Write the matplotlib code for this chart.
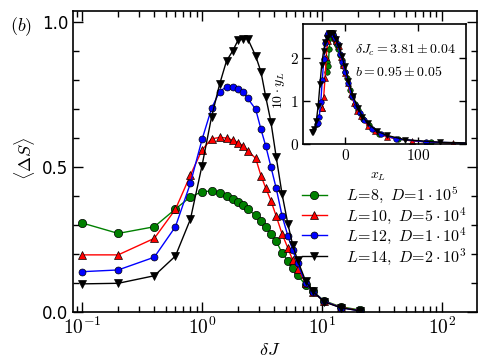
import numpy as np
import matplotlib
matplotlib.use("Agg")
import matplotlib.pyplot as plt
from matplotlib.ticker import FuncFormatter, MultipleLocator, LogLocator

plt.rcParams["mathtext.fontset"] = "cm"

# delta J grid (shared by all system sizes)
dJ = [0.1, 0.2, 0.4, 0.6, 0.8, 1.0, 1.2, 1.4, 1.6, 1.8, 2.0, 2.2, 2.4, 2.8, 3.1,
      3.4, 3.75, 4.15, 4.65, 5.2, 5.7, 6.25, 7.3, 8.4, 10.4, 14.3, 20.7]

# <Delta S> for each L
dS_L8 = [0.307, 0.271, 0.294, 0.355, 0.397, 0.415, 0.417, 0.41, 0.40, 0.389, 0.378,
         0.368, 0.355, 0.333, 0.314, 0.292, 0.268, 0.245, 0.203, 0.177, 0.151, 0.128,
         0.093, 0.071, 0.039, 0.018, 0.007]
dS_L10 = [0.197, 0.197, 0.254, 0.354, 0.472, 0.559, 0.597, 0.602, 0.60, 0.593, 0.584,
          0.573, 0.556, 0.53, 0.47, 0.427, 0.384, 0.331, 0.269, 0.22, 0.179, 0.15,
          0.10, 0.07, 0.037, 0.016, 0.005]
dS_L12 = [0.139, 0.145, 0.189, 0.294, 0.444, 0.595, 0.702, 0.76, 0.777, 0.777, 0.769,
          0.76, 0.737, 0.699, 0.63, 0.572, 0.501, 0.427, 0.331, 0.262, 0.214, 0.168,
          0.10, 0.07, 0.037, 0.015, 0.004]
dS_L14 = [0.097, 0.099, 0.125, 0.193, 0.32, 0.505, 0.672, 0.785, 0.866, 0.90, 0.938,
          0.941, 0.943, 0.883, 0.828, 0.741, 0.656, 0.535, 0.406, 0.303, 0.231, 0.179,
          0.107, 0.071, 0.035, 0.015, 0.004]

# inset: scaling collapse (x_L, 10*y_L)
xL_L8 = [-25.6, -24.9, -23.5, -22.1, -20.8, -19.4, -18.0, -16.6, -15.2, -13.9, -12.5,
         -11.1, -9.7, -7.0, -4.9, -2.8, -0.4, 2.3, 5.8, 9.6, 13.0, 16.8, 24.1, 31.7,
         45.5, 72.4, 116.5]
yL_L8 = [1.92, 1.69, 1.83, 2.22, 2.48, 2.59, 2.60, 2.56, 2.50, 2.43, 2.36, 2.30, 2.22,
         2.08, 1.96, 1.82, 1.67, 1.53, 1.27, 1.10, 0.94, 0.80, 0.58, 0.44, 0.24, 0.11, 0.04]
xL_L10 = [-32.3, -31.4, -29.7, -27.9, -26.2, -24.4, -22.7, -21.0, -19.2, -17.5, -15.7,
          -14.0, -12.3, -8.8, -6.2, -3.6, -0.5, 3.0, 7.3, 12.1, 16.4, 21.2, 30.4, 39.9,
          57.3, 91.3, 146.9]
yL_L10 = [0.85, 0.85, 1.10, 1.53, 2.04, 2.41, 2.58, 2.60, 2.59, 2.56, 2.52, 2.48, 2.40,
          2.29, 2.03, 1.84, 1.66, 1.43, 1.16, 0.95, 0.77, 0.65, 0.43, 0.30, 0.16, 0.07, 0.02]
xL_L12 = [-39.0, -37.9, -35.8, -33.7, -31.6, -29.5, -27.4, -25.3, -23.2, -21.1, -19.0,
          -16.9, -14.8, -10.6, -7.5, -4.3, -0.6, 3.6, 8.8, 14.6, 19.8, 25.6, 36.6, 48.2,
          69.2, 110.1, 177.3]
yL_L12 = [0.47, 0.49, 0.63, 0.98, 1.49, 1.99, 2.35, 2.55, 2.60, 2.60, 2.58, 2.55, 2.47,
          2.34, 2.11, 1.92, 1.68, 1.43, 1.11, 0.88, 0.72, 0.56, 0.34, 0.23, 0.12, 0.05, 0.01]
xL_L14 = [-46.0, -44.8, -42.3, -39.8, -37.3, -34.8, -32.4, -29.9, -27.4, -24.9, -22.4,
          -20.0, -17.5, -12.5, -8.8, -5.1, -0.7, 4.2, 10.4, 17.2, 23.4, 30.3, 43.3, 56.9,
          81.7, 130.1, 209.4]
yL_L14 = [0.27, 0.27, 0.35, 0.53, 0.88, 1.39, 1.85, 2.17, 2.39, 2.48, 2.59, 2.60, 2.60,
          2.44, 2.29, 2.05, 1.81, 1.48, 1.12, 0.84, 0.64, 0.49, 0.30, 0.20, 0.10, 0.04, 0.01]

labels = [r"$L\!=\!8,\ D\!=\!1\cdot10^5$", r"$L\!=\!10,\ D\!=\!5\cdot10^4$",
          r"$L\!=\!12,\ D\!=\!1\cdot10^4$", r"$L\!=\!14,\ D\!=\!2\cdot10^3$"]
colors = ["g", "r", "b", "k"]
markers = ["o", "^", "o", "v"]
msizes = [6, 6, 5, 6]

fig = plt.figure(figsize=(4.91, 3.6), dpi=100)
ax = fig.add_axes([73 / 491, 48 / 360, 404 / 491, 301 / 360])

main_series = [dS_L8, dS_L10, dS_L12, dS_L14]
for y, c, m, ms, lab in zip(main_series, colors, markers, msizes, labels):
    ax.plot(dJ, y, color=c, marker=m, ms=ms, mec="k", mew=0.5, lw=1.0, label=lab)

ax.set_xscale("log")
ax.set_xlim(0.084, 196)
ax.set_ylim(0, 1.038)
ax.set_yticks([0.0, 0.5, 1.0])
ax.yaxis.set_minor_locator(MultipleLocator(0.1))
ax.xaxis.set_major_locator(LogLocator(base=10, numticks=10))
ax.xaxis.set_minor_locator(LogLocator(base=10, subs=np.arange(2, 10), numticks=20))
ax.xaxis.set_major_formatter(FuncFormatter(lambda v, p: r"$10^{%d}$" % round(np.log10(v))))
ax.tick_params(which="both", direction="in", top=True, right=True, labelsize=12)
ax.tick_params(axis="x", which="major", labelsize=14)
ax.tick_params(which="major", length=7, width=1)
ax.tick_params(which="minor", length=4, width=1)
for s in ax.spines.values():
    s.set_linewidth(1.2)

ax.set_xlabel(r"$\delta J$", fontsize=13)
ax.xaxis.set_label_coords(0.488, -0.095)
ax.set_ylabel(r"$\langle\Delta S\rangle$", fontsize=13)
ax.yaxis.set_label_coords(-0.09, 0.51)
fig.text(21 / 491, 1 - 27 / 360, r"$(b)$", fontsize=13, ha="center", va="center")

ax.legend(loc="upper left", bbox_to_anchor=(0.55, 0.442), frameon=False,
          fontsize=11.5, handlelength=1.6, labelspacing=0.0, handletextpad=1.15,
          borderaxespad=0)

# inset
axi = fig.add_axes([303 / 491, 216 / 360, 163 / 491, 120 / 360])
inset_x = [xL_L8, xL_L10, xL_L12, xL_L14]
inset_y = [yL_L8, yL_L10, yL_L12, yL_L14]
for x, y, c, m in zip(inset_x, inset_y, colors, markers):
    axi.plot(x, y, color=c, marker=m, ms=4, mec="k", mew=0.4, lw=1.0)
axi.set_xlim(-58, 165)
axi.set_ylim(0, 2.8)
axi.set_xticks([0, 100])
axi.set_yticks([0, 1, 2])
axi.xaxis.set_major_formatter(FuncFormatter(lambda v, p: r"$%d$" % v))
axi.yaxis.set_major_formatter(FuncFormatter(lambda v, p: r"$%d$" % v))
axi.tick_params(which="both", direction="in", top=True, right=True, labelsize=11,
                length=5, width=1, pad=3)
for s in axi.spines.values():
    s.set_linewidth(1.2)
axi.set_xlabel(r"$x_L$", fontsize=10)
axi.xaxis.set_label_coords(0.46, -0.21)
axi.set_ylabel(r"$10\cdot y_L$", fontsize=10)
axi.yaxis.set_label_coords(-0.1, 0.45)
axi.text(0.32, 0.78, r"$\delta J_c=3.81\pm0.04$", transform=axi.transAxes,
         fontsize=10, va="center")
axi.text(0.32, 0.6, r"$b=0.95\pm0.05$", transform=axi.transAxes,
         fontsize=10, va="center")

fig.savefig("out.png", dpi=100)
